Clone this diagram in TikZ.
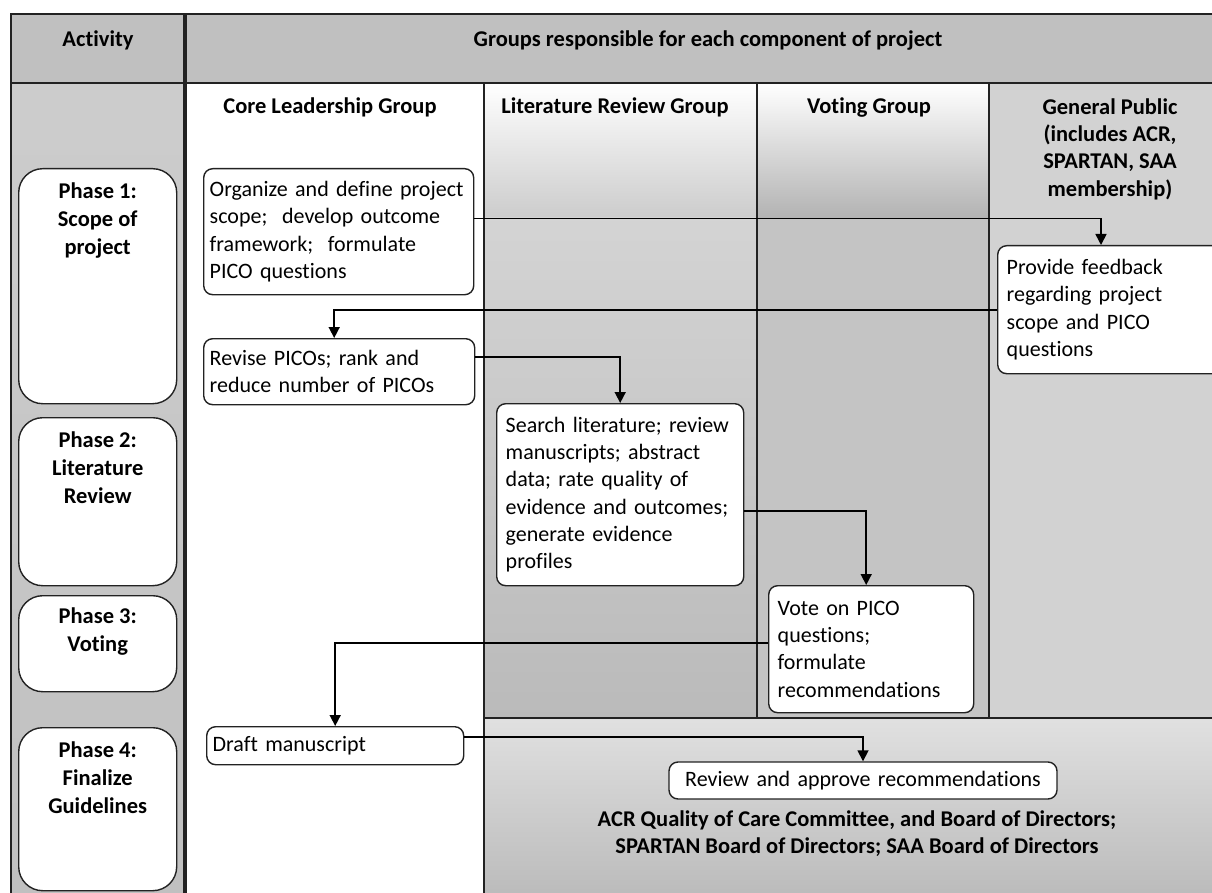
\documentclass[tikz,border=0pt]{standalone}
\usepackage{fontspec}
\setmainfont{Carlito}[Ligatures={NoCommon}]
\usetikzlibrary{arrows.meta,calc}
\definecolor{hdrgray}{HTML}{C0C0C0}
\definecolor{pubgray}{HTML}{D2D2D2}
\definecolor{linegray}{HTML}{222222}
\tikzset{
  task/.style={draw=linegray, fill=white, rounded corners=9pt, line width=1.4pt, align=left, anchor=north west, inner xsep=6pt, inner ysep=2pt, font=\fontsize{22}{27.3}\selectfont},
  phasebox/.style={draw=linegray, fill=white, rounded corners=24pt, line width=1.4pt, anchor=north west, minimum width=158pt, inner sep=0pt},
  phasetext/.style={align=center, anchor=north, font=\bfseries\fontsize{22.5}{28}\selectfont, inner sep=0pt},
  head/.style={font=\bfseries\fontsize{22.5}{27.3}\selectfont, align=center, inner sep=0pt},
  flow/.style={line width=1.6pt, draw=black, -{Triangle[length=11pt,width=11pt]}},
  gridline/.style={line width=1.4pt, draw=linegray},
}
\begin{document}
\begin{tikzpicture}[x=1pt,y=-1pt]
\useasboundingbox (0,0) rectangle (1212,893);
\begin{scope}
\clip (0,0) rectangle (1212,893);
% backgrounds
\fill[white] (11,14) rectangle (1232,900);
\fill[hdrgray] (11,14) rectangle (1232,83);
\shade[top color=hdrgray!80!white, bottom color=hdrgray] (11,83) rectangle (185,900);
\shade[top color=white, bottom color=black!20] (484,83) rectangle (757,218);
\shade[top color=black!17, bottom color=black!27] (484,218) rectangle (757,718);
\shade[top color=white, bottom color=black!30] (757,83) rectangle (989,218);
\fill[black!23] (757,218) rectangle (989,718);
\fill[pubgray] (989,83) rectangle (1232,718);
\shade[top color=black!12, bottom color=black!27] (484,718) rectangle (1232,900);
% grid
\draw[gridline] (11,14) rectangle (1232,900);
\draw[gridline, line width=2.2pt] (11,83) -- (1232,83);
\draw[gridline, line width=4pt] (185,14) -- (185,900);
\draw[gridline] (484,83) -- (484,900);
\draw[gridline] (757,83) -- (757,718);
\draw[gridline] (989,83) -- (989,718);
\draw[gridline] (484,718) -- (1232,718);
% headers
\node[head, anchor=base] (hact) at (98,47) {Activity};
\node[head, anchor=base] (hgrp) at (708,47) {Groups responsible for each component of project};
\node[head, anchor=base] (hcore) at (330,114) {Core Leadership Group};
\node[head, anchor=base] (hlit) at (615,114) {Literature Review Group};
\node[head, anchor=base] (hvote) at (869,114) {Voting Group};
\node[head] (hpub) at (1110,149) {General Public\\(includes ACR,\\SPARTAN, SAA\\membership)};
% phases
\node[phasebox, minimum height=235pt] (p1) at (18,168) {};
\node[phasetext] (p1t) at ([yshift=-15pt]p1.north) {Phase 1:\\Scope of\\project};
\node[phasebox, minimum height=168pt] (p2) at (18,417) {};
\node[phasetext] (p2t) at ([yshift=-15pt]p2.north) {Phase 2:\\Literature\\Review};
\node[phasebox, minimum height=96pt] (p3) at (18,595) {};
\node[phasetext] (p3t) at ([yshift=-13pt]p3.north) {Phase 3:\\Voting};
\node[phasebox, minimum height=163pt] (p4) at (18,727) {};
\node[phasetext] (p4t) at ([yshift=-15pt]p4.north) {Phase 4:\\Finalize\\Guidelines};
% tasks
\node[task, text width=258pt, minimum height=126pt] (org) at (203,168) {Organize and define project\\scope;~ develop outcome\\framework;~ formulate\\PICO questions};
\node[task, inner xsep=9pt, text width=207pt, minimum height=128pt] (fb) at (997,245) {Provide feedback\\regarding project\\scope and PICO\\questions};
\node[task, text width=259pt, minimum height=66pt] (rev) at (203,338) {Revise PICOs; rank and\\reduce number of PICOs};
\node[task, inner xsep=9pt, text width=229pt, minimum height=182pt] (srch) at (496,403) {Search literature; review\\manuscripts; abstract\\data; rate quality of\\evidence and outcomes;\\generate evidence\\profiles};
\node[task, inner xsep=9pt, text width=187pt, minimum height=127pt] (vote) at (768,585) {Vote on PICO\\questions;\\formulate\\recommendations};
\node[task, text width=245pt, minimum height=38pt] (draft) at (206,726) {Draft manuscript};
\node[task, anchor=center, align=center, text width=376pt, minimum height=37pt] (appr) at (863,780.5) {Review and approve recommendations};
\node[head, font=\bfseries\fontsize{22.5}{27}\selectfont] (boards) at (857,833.5) {ACR Quality of Care Committee, and Board of Directors;\\SPARTAN Board of Directors; SAA Board of Directors};
% arrows
\draw[flow] ([yshift=13pt]org.east) -| ([xshift=104pt]fb.north west);
\draw[flow] (fb.west) -| ([xshift=-5pt]rev.north);
\draw[flow] ([yshift=15pt]rev.east) -| (srch.north);
\draw[flow] ([yshift=-16pt]srch.east) -| ([xshift=-5pt]vote.north);
\draw[flow] ([yshift=6pt]vote.west) -| (draft.north);
\draw[flow] ([yshift=9pt]draft.east) -| (appr.north);
\end{scope}
\end{tikzpicture}
\end{document}
